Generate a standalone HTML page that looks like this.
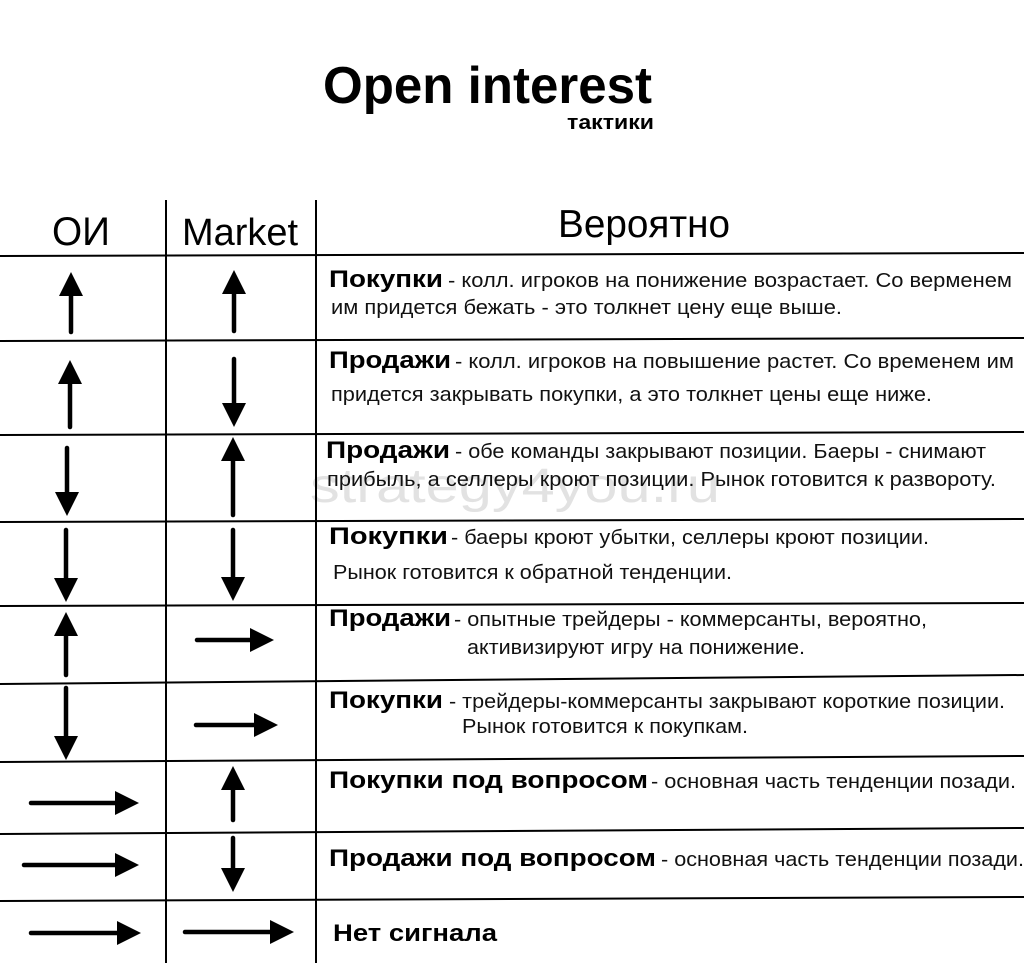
<!DOCTYPE html>
<html><head><meta charset="utf-8"><style>html,body{margin:0;padding:0;background:#fff}svg{display:block}</style></head>
<body>
<svg width="1024" height="963" viewBox="0 0 1024 963" xmlns="http://www.w3.org/2000/svg" font-family="'Liberation Sans', 'DejaVu Sans', sans-serif">
<rect width="1024" height="963" fill="#fff"/>
<text x="323" y="103" font-size="52" font-weight="bold" textLength="329" lengthAdjust="spacingAndGlyphs">Open interest</text>
<text x="567" y="129" font-size="20" font-weight="bold" textLength="87" lengthAdjust="spacingAndGlyphs">тактики</text>

<text x="52" y="245" font-size="40" textLength="58" lengthAdjust="spacingAndGlyphs">ОИ</text>
<text x="182" y="245" font-size="38" textLength="116" lengthAdjust="spacingAndGlyphs">Market</text>
<text x="558" y="237" font-size="39" textLength="172" lengthAdjust="spacingAndGlyphs">Вероятно</text>

<text x="310" y="502" font-size="48" fill="#e2e2e2" textLength="410" lengthAdjust="spacingAndGlyphs">strategy4you.ru</text>

<g stroke="#000" stroke-width="2" fill="none">
<line x1="166" y1="200" x2="166" y2="963"/>
<line x1="316" y1="200" x2="316" y2="963"/>
<line x1="0" y1="256" x2="1024" y2="253"/>
<line x1="0" y1="341" x2="1024" y2="338"/>
<line x1="0" y1="435" x2="1024" y2="432"/>
<line x1="0" y1="522" x2="1024" y2="519"/>
<line x1="0" y1="606" x2="1024" y2="603"/>
<line x1="0" y1="684" x2="1024" y2="675"/>
<line x1="0" y1="762" x2="1024" y2="756"/>
<line x1="0" y1="834" x2="1024" y2="828"/>
<line x1="0" y1="901" x2="1024" y2="897"/>
</g>

<g stroke="#000" stroke-width="4.5" stroke-linecap="round">
<line x1="71" y1="292" x2="71" y2="332"/><line x1="234" y1="290" x2="234" y2="331"/>
<line x1="70" y1="380" x2="70" y2="427"/><line x1="234" y1="359" x2="234" y2="407"/>
<line x1="67" y1="448" x2="67" y2="496"/><line x1="233" y1="457" x2="233" y2="515"/>
<line x1="66" y1="530" x2="66" y2="582"/><line x1="233" y1="530" x2="233" y2="581"/>
<line x1="66" y1="632" x2="66" y2="675"/><line x1="197" y1="640" x2="254" y2="640"/>
<line x1="66" y1="688" x2="66" y2="740"/><line x1="196" y1="725" x2="258" y2="725"/>
<line x1="31" y1="803" x2="119" y2="803"/><line x1="233" y1="786" x2="233" y2="820"/>
<line x1="24" y1="865" x2="119" y2="865"/><line x1="233" y1="838" x2="233" y2="872"/>
<line x1="31" y1="933" x2="121" y2="933"/><line x1="185" y1="932" x2="274" y2="932"/>
</g>
<g fill="#000">
<polygon points="71,272 59,296 83,296"/><polygon points="234,270 222,294 246,294"/>
<polygon points="70,360 58,384 82,384"/><polygon points="234,427 222,403 246,403"/>
<polygon points="67,516 55,492 79,492"/><polygon points="233,437 221,461 245,461"/>
<polygon points="66,602 54,578 78,578"/><polygon points="233,601 221,577 245,577"/>
<polygon points="66,612 54,636 78,636"/><polygon points="274,640 250,628 250,652"/>
<polygon points="66,760 54,736 78,736"/><polygon points="278,725 254,713 254,737"/>
<polygon points="139,803 115,791 115,815"/><polygon points="233,766 221,790 245,790"/>
<polygon points="139,865 115,853 115,877"/><polygon points="233,892 221,868 245,868"/>
<polygon points="141,933 117,921 117,945"/><polygon points="294,932 270,920 270,944"/>
</g>

<g font-size="20.5" fill="#111">
<text x="329" y="287" font-size="24" font-weight="bold" fill="#000" textLength="114" lengthAdjust="spacingAndGlyphs">Покупки</text>
<text x="448" y="287" textLength="564" lengthAdjust="spacingAndGlyphs">- колл. игроков на понижение возрастает. Со верменем</text>
<text x="331" y="314" textLength="511" lengthAdjust="spacingAndGlyphs">им придется бежать - это толкнет цену еще выше.</text>

<text x="329" y="368" font-size="24" font-weight="bold" fill="#000" textLength="122" lengthAdjust="spacingAndGlyphs">Продажи</text>
<text x="455" y="368" textLength="559" lengthAdjust="spacingAndGlyphs">- колл. игроков на повышение растет. Со временем им</text>
<text x="331" y="401" textLength="601" lengthAdjust="spacingAndGlyphs">придется закрывать покупки, а это толкнет цены еще ниже.</text>

<text x="326" y="458" font-size="24" font-weight="bold" fill="#000" textLength="124" lengthAdjust="spacingAndGlyphs">Продажи</text>
<text x="455" y="458" textLength="531" lengthAdjust="spacingAndGlyphs">- обе команды закрывают позиции. Баеры - снимают</text>
<text x="327" y="486" textLength="669" lengthAdjust="spacingAndGlyphs">прибыль, а селлеры кроют позиции. Рынок готовится к развороту.</text>

<text x="329" y="544" font-size="24" font-weight="bold" fill="#000" textLength="119" lengthAdjust="spacingAndGlyphs">Покупки</text>
<text x="451" y="544" textLength="478" lengthAdjust="spacingAndGlyphs">- баеры кроют убытки, селлеры кроют позиции.</text>
<text x="333" y="579" textLength="399" lengthAdjust="spacingAndGlyphs">Рынок готовится к обратной тенденции.</text>

<text x="329" y="626" font-size="24" font-weight="bold" fill="#000" textLength="122" lengthAdjust="spacingAndGlyphs">Продажи</text>
<text x="454" y="626" textLength="473" lengthAdjust="spacingAndGlyphs">- опытные трейдеры - коммерсанты, вероятно,</text>
<text x="467" y="654" textLength="338" lengthAdjust="spacingAndGlyphs">активизируют игру на понижение.</text>

<text x="329" y="708" font-size="24" font-weight="bold" fill="#000" textLength="114" lengthAdjust="spacingAndGlyphs">Покупки</text>
<text x="449" y="708" textLength="556" lengthAdjust="spacingAndGlyphs">- трейдеры-коммерсанты закрывают короткие позиции.</text>
<text x="462" y="733" textLength="286" lengthAdjust="spacingAndGlyphs">Рынок готовится к покупкам.</text>

<text x="329" y="788" font-size="24" font-weight="bold" fill="#000" textLength="319" lengthAdjust="spacingAndGlyphs">Покупки под вопросом</text>
<text x="651" y="788" textLength="365" lengthAdjust="spacingAndGlyphs">- основная часть тенденции позади.</text>

<text x="329" y="866" font-size="24" font-weight="bold" fill="#000" textLength="327" lengthAdjust="spacingAndGlyphs">Продажи под вопросом</text>
<text x="661" y="866" textLength="363" lengthAdjust="spacingAndGlyphs">- основная часть тенденции позади.</text>

<text x="333" y="941" font-size="24" font-weight="bold" fill="#000" textLength="164" lengthAdjust="spacingAndGlyphs">Нет сигнала</text>
</g>
</svg>
</body></html>
